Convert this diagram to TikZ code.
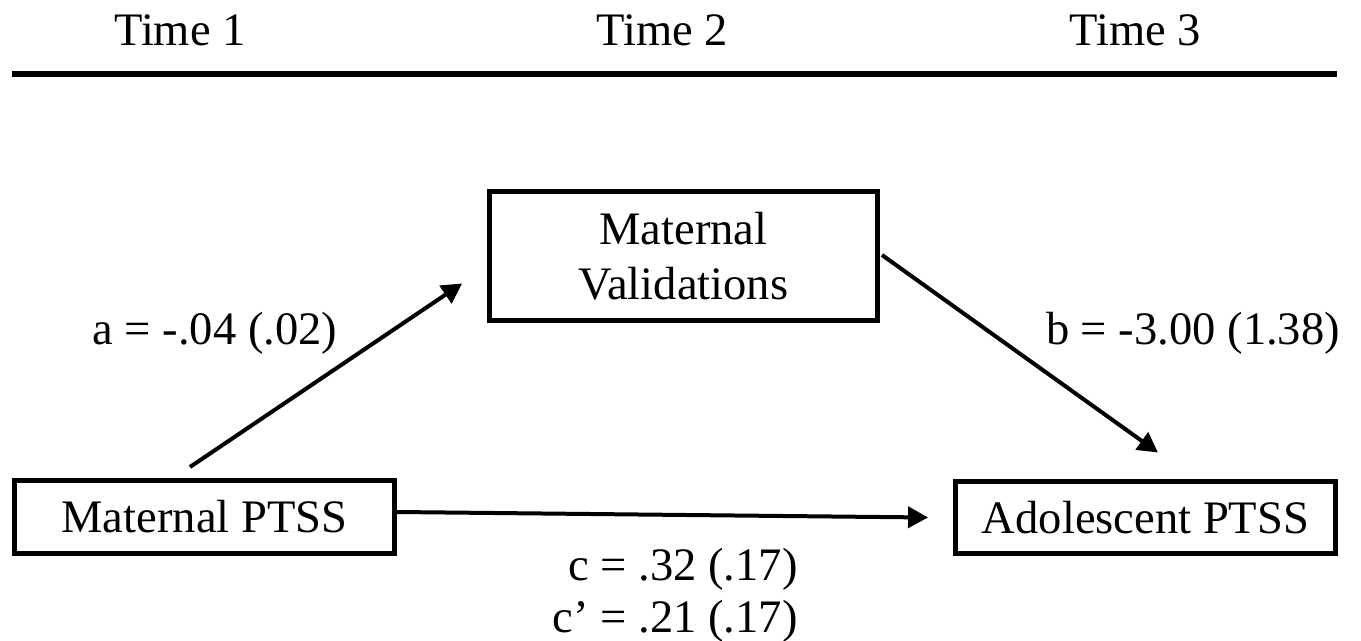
\documentclass[tikz,border=0pt]{standalone}
\usepackage{fontspec}
\setmainfont{Liberation Serif}
\usepackage{tikz}
\usetikzlibrary{positioning,arrows.meta,calc}
\tikzset{
  >={Triangle[length=4mm,width=4.2mm]},
  bigtxt/.style={font=\fontsize{26.5}{30}\selectfont},
  varbox/.style={draw=black,line width=1mm,bigtxt,minimum width=76mm,
    minimum height=14.6mm,inner sep=2pt,align=center},
  medarr/.style={->,line width=0.8mm},
  coeflbl/.style={bigtxt,anchor=base,inner sep=0pt},
  timelbl/.style={bigtxt,anchor=base,inner sep=0pt},
}

\begin{document}
\begin{tikzpicture}[x=0.02cm,y=-0.02cm]
  \useasboundingbox (0,0) rectangle (1361,641);
  % header
  \node[timelbl] (t1) at (180,46) {Time 1};
  \node[timelbl] (t2) at (662,46) {Time 2};
  \node[timelbl] (t3) at (1135,46) {Time 3};
  \coordinate (ruleL) at (12,74);
  \coordinate (ruleR) at (1337,74);
  \draw[line width=1.1mm] (ruleL) -- (ruleR);
  % variables
  \node[varbox] (mptss) at (204.5,517) {Maternal PTSS};
  \node[varbox] (adol) at (1145.5,517.5) {Adolescent PTSS};
  \node[varbox,minimum width=77.6mm,minimum height=26mm] (mval)
    at (683.5,256) {Maternal\\[1pt]Validations};
  % paths
  \draw[medarr] ($(mptss.north)+(-14.5,-11)$) -- ($(mval.south west)+(-25,-40)$);
  \draw[medarr] ($(mval.east)+(2,-1)$) -- ($(adol.north)+(12.5,-26)$);
  \draw[medarr] ($(mptss.east)+(0,-5)$) -- ($(adol.west)+(-25,0)$);
  % coefficients
  \node[coeflbl] (alab) at (215,345) {a = -.04 (.02)};
  \node[coeflbl] (blab) at (1193,345) {b = -3.00 (1.38)};
  \node[coeflbl,anchor=base east] (clab) at (798,580) {c = .32 (.17)};
  \node[coeflbl,anchor=base east] (cplab) at (798,632) {c’ = .21 (.17)};
\end{tikzpicture}
\end{document}
